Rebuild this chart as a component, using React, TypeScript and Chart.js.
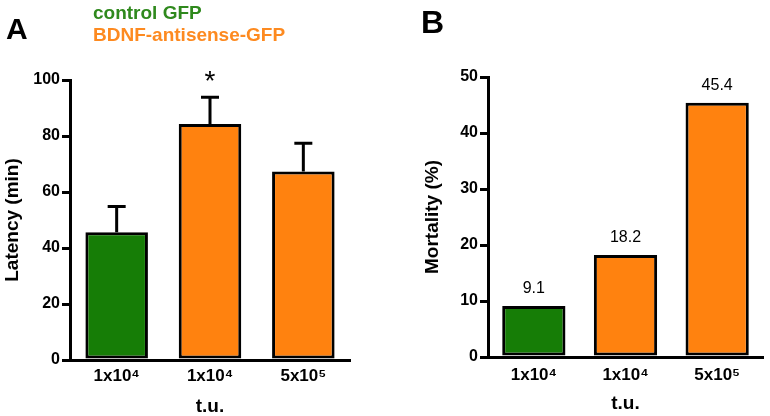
import React, { useEffect, useRef } from "react";
import { Chart, registerables } from "chart.js";

Chart.register(...registerables);

const FONT = "Arial, 'Liberation Sans', Helvetica, sans-serif";

// ---- data ----
const categories = ["1x10⁴", "1x10⁴", "5x10⁵"];
const latencyMean = [45.6, 84.3, 67.3];
const latencySem = [9.2, 9.5, 10.1];
const latencySignif = ["", "*", ""];
const mortality = [9.1, 18.2, 45.4];
const barColors = ["#167d06", "#ff820f", "#ff820f"];
const latencyTicks = [0, 20, 40, 60, 80, 100];
const mortalityTicks = [0, 10, 20, 30, 40, 50];
const legendLabels = ["control GFP", "BDNF-antisense-GFP"];
const legendColors = ["#2f891d", "#fd8a20"];

function makeErrorPlugin(means: number[], errs: number[], marks: string[]) {
  return {
    id: "errorBars",
    afterDatasetsDraw(chart: any) {
      const ctx = chart.ctx;
      const meta = chart.getDatasetMeta(0);
      const y = chart.scales.y;
      ctx.save();
      ctx.strokeStyle = "#000";
      ctx.lineWidth = 3;
      meta.data.forEach((el: any, i: number) => {
        const top = y.getPixelForValue(means[i] + errs[i]);
        ctx.beginPath();
        ctx.moveTo(el.x, el.y);
        ctx.lineTo(el.x, top);
        ctx.moveTo(el.x - 9, top);
        ctx.lineTo(el.x + 9, top);
        ctx.stroke();
        if (marks[i]) {
          ctx.fillStyle = "#000";
          ctx.font = `28px ${FONT}`;
          ctx.textAlign = "center";
          ctx.textBaseline = "alphabetic";
          ctx.fillText(marks[i], el.x, top - 7);
        }
      });
      ctx.restore();
    },
  };
}

function makeValuePlugin(values: number[]) {
  return {
    id: "valueLabels",
    afterDatasetsDraw(chart: any) {
      const ctx = chart.ctx;
      const meta = chart.getDatasetMeta(0);
      ctx.save();
      ctx.fillStyle = "#000";
      ctx.font = `16px ${FONT}`;
      ctx.textAlign = "center";
      ctx.textBaseline = "alphabetic";
      meta.data.forEach((el: any, i: number) => {
        ctx.fillText(values[i].toFixed(1), el.x, el.y - 13);
      });
      ctx.restore();
    },
  };
}

function buildConfig(opts: {
  values: number[];
  max: number;
  ticks: number[];
  yTitle: string;
  yTitlePad: number;
  yWidth: number;
  xHeight: number;
  xTitlePad: number;
  xTickPad: number;
  padding: any;
  barPct: number;
  plugin: any;
}) {
  return {
    type: "bar",
    data: {
      labels: categories,
      datasets: [
        {
          data: opts.values,
          backgroundColor: barColors,
          borderColor: "#000",
          borderWidth: 3,
          borderSkipped: false,
          categoryPercentage: 1,
          barPercentage: opts.barPct,
        },
      ],
    },
    options: {
      animation: false,
      responsive: false,
      layout: { padding: opts.padding },
      plugins: { legend: { display: false }, tooltip: { enabled: false } },
      scales: {
        x: {
          grid: { display: false, drawTicks: false },
          border: { display: true, color: "#000", width: 3 },
          ticks: {
            color: "#000",
            font: { family: FONT, size: 17, weight: "bold" },
            padding: opts.xTickPad,
            maxRotation: 0,
          },
          title: {
            display: true,
            text: "t.u.",
            color: "#000",
            font: { family: FONT, size: 19, weight: "bold", lineHeight: 1 },
            padding: { top: 0, bottom: opts.xTitlePad },
          },
          afterFit: (s: any) => {
            s.height = opts.xHeight;
          },
        },
        y: {
          min: 0,
          max: opts.max,
          afterBuildTicks: (s: any) => {
            s.ticks = opts.ticks.map((v) => ({ value: v }));
          },
          ticks: {
            color: "#000",
            font: { family: FONT, size: 16, weight: "bold" },
            padding: 2,
          },
          grid: {
            drawOnChartArea: false,
            drawTicks: true,
            tickLength: 8,
            color: "#000",
            lineWidth: 3,
          },
          border: { display: true, color: "#000", width: 3 },
          title: {
            display: true,
            text: opts.yTitle,
            color: "#000",
            font: { family: FONT, size: 19, weight: "bold", lineHeight: 1 },
            padding: { top: opts.yTitlePad, bottom: 0 },
          },
          afterFit: (s: any) => {
            s.width = opts.yWidth;
          },
        },
      },
    },
    plugins: [opts.plugin],
  };
}

export default function App() {
  const refA = useRef<HTMLCanvasElement>(null);
  const refB = useRef<HTMLCanvasElement>(null);

  useEffect(() => {
    const a = new Chart(
      refA.current as any,
      buildConfig({
        values: latencyMean,
        max: 100,
        ticks: latencyTicks,
        yTitle: "Latency (min)",
        yTitlePad: 3,
        yWidth: 70,
        xHeight: 56,
        xTitlePad: 0,
        xTickPad: 6,
        padding: { top: 80, right: 40, left: 0, bottom: 0 },
        barPct: 0.67,
        plugin: makeErrorPlugin(latencyMean, latencySem, latencySignif),
      }) as any
    );
    const b = new Chart(
      refB.current as any,
      buildConfig({
        values: mortality,
        max: 50,
        ticks: mortalityTicks,
        yTitle: "Mortality (%)",
        yTitlePad: 23,
        yWidth: 88,
        xHeight: 59,
        xTitlePad: 3,
        xTickPad: 8,
        padding: { top: 77, right: 7, left: 0, bottom: 0 },
        barPct: 0.69,
        plugin: makeValuePlugin(mortality),
      }) as any
    );
    return () => {
      a.destroy();
      b.destroy();
    };
  }, []);

  const letter = (txt: string, left: number, top: number, size: number) => (
    <div
      style={{
        position: "absolute",
        left,
        top,
        fontFamily: FONT,
        fontWeight: "bold",
        fontSize: size,
        lineHeight: 1,
        color: "#000",
      }}
    >
      {txt}
    </div>
  );

  return (
    <div
      style={{
        position: "fixed",
        left: 0,
        top: 0,
        width: 770,
        height: 416,
        background: "#fff",
        overflow: "hidden",
      }}
    >
      <canvas
        ref={refA}
        width={390}
        height={416}
        style={{ position: "absolute", left: 0, top: 0 }}
      />
      <canvas
        ref={refB}
        width={370}
        height={416}
        style={{ position: "absolute", left: 400, top: 0 }}
      />
      {letter("A", 6, 14, 30)}
      {letter("B", 421, 6, 32)}
      {legendLabels.map((t, i) => (
        <div
          key={t}
          style={{
            position: "absolute",
            left: 93,
            top: 3 + i * 22,
            fontFamily: FONT,
            fontWeight: "bold",
            fontSize: 19,
            lineHeight: 1,
            color: legendColors[i],
            whiteSpace: "nowrap",
          }}
        >
          {t}
        </div>
      ))}
    </div>
  );
}
